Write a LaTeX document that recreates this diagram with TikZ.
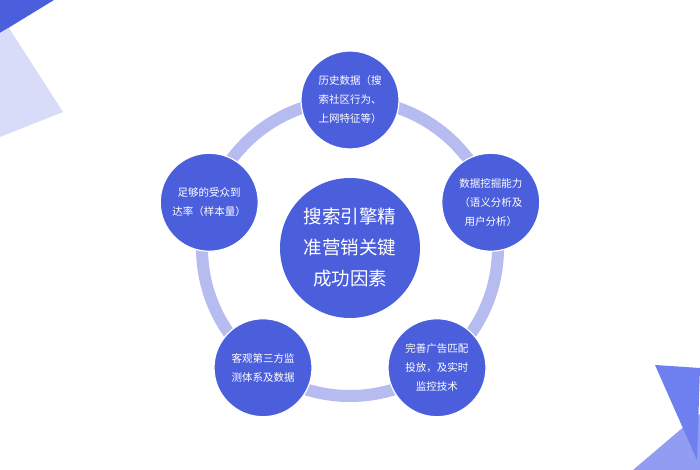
\documentclass[tikz,border=0pt]{standalone}
\usepackage{fontspec}
\setmainfont{Noto Sans CJK SC}
\usetikzlibrary{positioning}
\definecolor{royal}{HTML}{4B5FDD}
\definecolor{ringblue}{HTML}{B6BBF0}
\definecolor{paleblue}{HTML}{D9DCF8}
\definecolor{midblue}{HTML}{6E80EF}
\definecolor{softblue}{HTML}{929CF2}
\tikzstyle{core} = [
circle, minimum size=140pt, inner sep=0pt, fill=royal, text=white,
align=center, font=\fontsize{18.5}{31}\selectfont
]
\tikzstyle{factor} = [
circle, minimum size=98pt, inner sep=0pt, fill=royal, draw=white, line width=1.2pt,
text=white, align=center, font=\fontsize{10.5}{19}\selectfont
]
\tikzstyle{ring} = [draw=ringblue, line width=12pt]

\begin{document}
\begin{tikzpicture}
			\useasboundingbox (-350pt,-222pt) rectangle (350pt,248pt);
			% Ecken
			\fill[royal] (-350pt,248pt) -- (-296pt,248pt) -- (-350pt,215pt) -- cycle;
			\fill[paleblue] (-350pt,215pt) -- (-341pt,220pt) -- (-287pt,136pt) -- (-350pt,111pt) -- cycle;
			\fill[softblue] (283pt,-222pt) -- (330pt,-182pt) -- (350pt,-166pt) -- (350pt,-222pt) -- cycle;
			\fill[midblue] (305pt,-117pt) -- (350pt,-120pt) -- (347pt,-212pt) -- cycle;

			% Ring
			\draw[ring] (0,0) circle (148pt);

			% Zentrum
			\node (kern) [core] at (0,0) {搜索引擎精\\准营销关键\\成功因素};

			% Faktoren
			\node (daten) [factor] at (90:148pt) {历史数据（搜\\索社区行为、\\上网特征等）};
			\node (mining) [factor] at (18:148pt) {数据挖掘能力\\（语义分析及\\用户分析）};
			\node (werbung) [factor] at (-54:148pt) {完善广告匹配\\投放，及实时\\监控技术};
			\node (monitor) [factor] at (-126:148pt) {客观第三方监\\测体系及数据};
			\node (reichweite) [factor] at (162:148pt) {足够的受众到\\达率（样本量）};

		\end{tikzpicture}
\end{document}
